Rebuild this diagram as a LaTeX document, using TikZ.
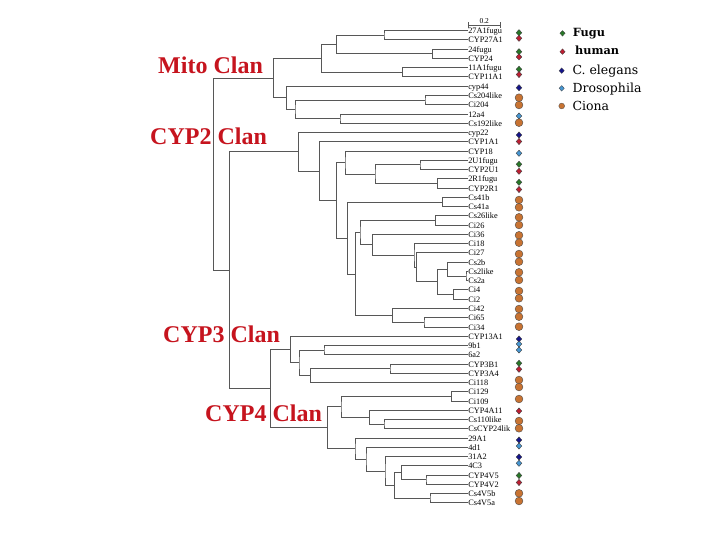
\documentclass[tikz,border=0pt]{standalone}
\usepackage{fontspec}
\setmainfont{Liberation Serif}
\newfontfamily\legfont{DejaVu Serif}
\usetikzlibrary{calc,shapes.geometric}
\definecolor{cfugu}{RGB}{40,120,40}
\definecolor{chuman}{RGB}{190,30,50}
\definecolor{ccel}{RGB}{20,20,140}
\definecolor{cdros}{RGB}{70,150,210}
\definecolor{ciona}{RGB}{200,115,50}
\definecolor{clanred}{RGB}{198,20,30}
\tikzset{
  tree/.style={draw=black!66, line width=1pt},
  leaflabel/.style={anchor=base west, inner sep=0pt, xshift=0.6pt, yshift=-3pt, font=\fontsize{8.3}{9}\selectfont},
  dia/.style={diamond, draw=black!75, line width=0.4pt, inner sep=0pt, minimum width=5.8pt, minimum height=6.3pt},
  mfugu/.style={dia, fill=cfugu},
  mhuman/.style={dia, fill=chuman},
  mcel/.style={dia, fill=ccel},
  mdros/.style={dia, fill=cdros},
  mciona/.style={circle, draw=black!70, line width=0.4pt, inner sep=0pt, minimum size=7.8pt, fill=ciona},
  ldia/.style={diamond, draw=black!75, line width=0.3pt, inner sep=0pt, minimum width=5.3pt, minimum height=5.7pt},
  lcirc/.style={circle, draw=black!70, line width=0.3pt, inner sep=0pt, minimum size=5.8pt, fill=ciona},
  clan/.style={anchor=base west, inner sep=0pt, text=clanred, font=\fontsize{24}{28}\selectfont\bfseries},
  legtext/.style={anchor=base west, inner sep=0pt, font=\legfont\fontsize{12.5}{14}\selectfont},
  legbold/.style={anchor=base west, inner sep=0pt, font=\legfont\bfseries\fontsize{11.3}{13}\selectfont},
}
\newcommand{\joint}[4]{%
  \coordinate (#1m) at ($(#3)!0.5!(#4)$);
  \coordinate (#1x) at (#2,0);
  \coordinate (#1) at (#1m -| #1x);
  \draw[tree] (#3) -| (#1) |- (#4);
}
\newcommand{\mk}[3]{\node[#2] (k#1) at (519,#3) {};}
\begin{document}
\begin{tikzpicture}[x=1pt,y=-1pt]
\fill[white] (0,0) rectangle (720,540);
\useasboundingbox (0,0) rectangle (720,540);
% leaves
\foreach \n [count=\i] in {27A1fugu,CYP27A1,24fugu,CYP24,11A1fugu,CYP11A1,cyp44,Cs204like,Ci204,12a4,Cs192like,cyp22,CYP1A1,CYP18,2U1fugu,CYP2U1,2R1fugu,CYP2R1,Cs41b,Cs41a,Cs26like,Ci26,Ci36,Ci18,Ci27,Cs2b,Cs2like,Cs2a,Ci4,Ci2,Ci42,Ci65,Ci34,CYP13A1,9b1,6a2,CYP3B1,CYP3A4,Ci118,Ci129,Ci109,CYP4A11,Cs110like,CsCYP24lik,29A1,4d1,31A2,4C3,CYP4V5,CYP4V2,Cs4V5b,Cs4V5a}{
  \coordinate (l\i) at (467.5,{30.7+(\i-1)*9.26});
  \node[leaflabel] (t\i) at (l\i) {\n};
}
% Mito clan
\joint{a1}{384}{l1}{l2}
\joint{a2}{432.3}{l3}{l4}
\joint{a3}{336.7}{a1}{a2}
\joint{a4}{402.3}{l5}{l6}
\joint{a5}{321.7}{a3}{a4}
\joint{a6}{425}{l8}{l9}
\joint{a7}{340}{l10}{l11}
\joint{a8}{295}{a6}{a7}
\joint{a9}{286.7}{l7}{a8}
\joint{mito}{273.3}{a5}{a9}
% CYP2 clan
\joint{b1}{420}{l15}{l16}
\joint{b2}{437.3}{l17}{l18}
\joint{b3}{375}{b1}{b2}
\joint{b4}{345}{l14}{b3}
\joint{b5}{442.7}{l19}{l20}
\joint{b6}{435.7}{l21}{l22}
\joint{c1}{466}{l27}{l28}
\joint{c2}{447.3}{l26}{c1}
\joint{c3}{453.3}{l29}{l30}
\joint{c4}{437.3}{c2}{c3}
\joint{c5}{416.7}{l25}{c4}
\joint{c6}{414}{l24}{c5}
\joint{c7}{372.3}{l23}{c6}
\joint{b7}{360}{b6}{c7}
\joint{d1}{424}{l32}{l33}
\joint{d2}{392.3}{l31}{d1}
\joint{b8}{355.7}{b7}{d2}
\joint{b9}{347.3}{b5}{b8}
\joint{b10}{336.7}{b4}{b9}
\joint{b11}{319.3}{l13}{b10}
\joint{cyp2}{298.3}{l12}{b11}
% CYP3 clan
\joint{e1}{324}{l35}{l36}
\joint{e2}{390}{l37}{l38}
\joint{e3}{310.7}{e2}{l39}
\joint{e4}{299}{e1}{e3}
\joint{cyp3}{290.7}{l34}{e4}
% CYP4 clan
\joint{f1}{451.5}{l40}{l41}
\joint{f2}{384}{l43}{l44}
\joint{f3}{369.3}{l42}{f2}
\joint{f4}{341}{f1}{f3}
\joint{g1}{426}{l49}{l50}
\joint{g2}{401.7}{l48}{g1}
\joint{g3}{430}{l51}{l52}
\joint{g4}{394.3}{g2}{g3}
\joint{g5}{385}{l47}{g4}
\joint{g6}{366}{l46}{g5}
\joint{g7}{355}{l45}{g6}
\joint{cyp4}{327.3}{f4}{g7}
\joint{n34}{270.7}{cyp3}{cyp4}
\joint{n234}{229.3}{cyp2}{n34}
\joint{root}{213.3}{mito}{n234}
% scale bar
\coordinate (sb1) at (468,25.5);
\coordinate (sb2) at (500.5,25.5);
\draw[tree, line width=0.7pt] (sb1) -- (sb2);
\draw[tree, line width=0.7pt] ($(sb1)+(0,-3)$) -- ($(sb1)+(0,2.5)$);
\draw[tree, line width=0.7pt] ($(sb2)+(0,-3)$) -- ($(sb2)+(0,2.5)$);
\node[anchor=base, inner sep=0pt, font=\fontsize{7.5}{8}\selectfont] (sbl) at ($(sb1)!0.5!(sb2)+(0,-2)$) {0.2};
% markers
\mk{1}{mfugu}{32.7}
\mk{2}{mhuman}{38.3}
\mk{3}{mfugu}{51.7}
\mk{4}{mhuman}{56.9}
\mk{5}{mfugu}{69.3}
\mk{6}{mhuman}{74.5}
\mk{7}{mcel}{87.7}
\mk{8}{mciona}{97.7}
\mk{9}{mciona}{105}
\mk{10}{mdros}{116}
\mk{11}{mciona}{122.7}
\mk{12}{mcel}{135}
\mk{13}{mhuman}{141.5}
\mk{14}{mdros}{153.3}
\mk{15}{mfugu}{164.3}
\mk{16}{mhuman}{171.3}
\mk{17}{mfugu}{182.3}
\mk{18}{mhuman}{189.5}
\mk{19}{mciona}{200}
\mk{20}{mciona}{207.3}
\mk{21}{mciona}{217.3}
\mk{22}{mciona}{225}
\mk{23}{mciona}{235.3}
\mk{24}{mciona}{242.7}
\mk{25}{mciona}{254}
\mk{26}{mciona}{261.7}
\mk{27}{mciona}{272.3}
\mk{28}{mciona}{280}
\mk{29}{mciona}{291}
\mk{30}{mciona}{298.3}
\mk{31}{mciona}{309}
\mk{32}{mciona}{316.7}
\mk{33}{mciona}{326.7}
\mk{34}{mcel}{339}
\mk{35}{mdros}{344}
\mk{36}{mdros}{350}
\mk{37}{mfugu}{363.3}
\mk{38}{mhuman}{369.3}
\mk{39}{mciona}{380}
\mk{40}{mciona}{387}
\mk{41}{mciona}{399}
\mk{42}{mhuman}{411}
\mk{43}{mciona}{421}
\mk{44}{mciona}{428.3}
\mk{45}{mcel}{440}
\mk{46}{mdros}{446}
\mk{47}{mcel}{457}
\mk{48}{mdros}{463.3}
\mk{49}{mfugu}{475.5}
\mk{50}{mhuman}{482.5}
\mk{51}{mciona}{493.3}
\mk{52}{mciona}{501}
% clan labels
\node[clan] (lmito) at (158,73.5) {Mito Clan};
\node[clan] (lcyp2) at (150,145) {CYP2 Clan};
\node[clan] (lcyp3) at (163,342.7) {CYP3 Clan};
\node[clan] (lcyp4) at (205,421.5) {CYP4 Clan};
% legend
\node[ldia, fill=cfugu] (g1m) at (562.5,33.3) {};
\node[ldia, fill=chuman] (g2m) at (562.5,51.7) {};
\node[ldia, fill=ccel] (g3m) at (561.7,70.7) {};
\node[ldia, fill=cdros] (g4m) at (561.7,88.3) {};
\node[lcirc] (g5m) at (561.7,106) {};
\node[legbold] (g1t) at (572.7,36.7) {Fugu};
\node[legbold] (g2t) at (575,55) {human};
\node[legtext] (g3t) at (572.3,75) {C. elegans};
\node[legtext] (g4t) at (572.3,92.7) {Drosophila};
\node[legtext] (g5t) at (572.3,110.7) {Ciona};
\end{tikzpicture}
\end{document}
